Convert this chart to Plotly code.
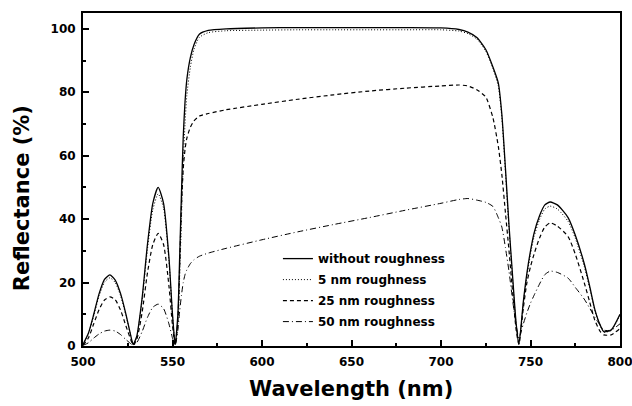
import plotly.graph_objects as go

wavelength = [500, 503, 506, 509, 512, 515, 518, 521, 524, 527, 528,
              530, 533, 536, 539, 542, 545, 548, 550, 551.5,
              553, 554, 555, 556, 557, 558, 560, 562, 565, 570, 580,
              600, 620, 640, 660, 680, 700, 710, 715, 720, 725, 729,
              732, 734, 736, 738, 740, 742, 743.5,
              746, 748, 750, 752, 755, 758, 761, 765, 771, 775, 780,
              783, 786, 789, 791, 795, 800]

r_none = [0.5, 4, 10, 16.5, 21, 22.4, 20.8, 16.5, 10, 2.5, 0.5,
          3, 15, 32, 45, 50, 45, 28, 10, 0.5,
          10, 28, 48, 66, 77, 84, 91, 95, 98.3, 99.5, 100,
          100.3, 100.4, 100.4, 100.4, 100.4, 100.3, 99.8, 99, 97.3, 93.5, 88,
          83, 73, 56, 38, 22, 7, 0.5,
          14, 23, 30, 35.6, 41, 44.5, 45.4, 44.5, 40.5, 35, 26,
          19, 11.4, 6.5, 4.5, 5, 10]

r_5nm = [0.5, 3.8, 9.5, 15.8, 20.1, 21.5, 20, 15.8, 9.6, 2.4, 0.5,
         2.8, 14.3, 30.5, 43, 48, 43.5, 27, 9.5, 0.5,
         7, 22, 40, 58, 70, 79, 88, 93.5, 97.3, 98.8, 99.4,
         99.6, 99.7, 99.7, 99.7, 99.7, 99.7, 99.3, 98.5, 96.8, 93, 87.5,
         82, 72, 55, 37, 21, 6.5, 0.5,
         13.5, 22, 29, 34.5, 39.8, 43.2, 44.1, 43.2, 39.3, 34, 25.2,
         18.4, 11, 6.3, 4.4, 4.9, 9.6]

r_25nm = [0.3, 2.5, 7, 11.5, 14.5, 15.5, 14.6, 11.3, 6.3, 1.5, 0.3,
          2, 10.5, 23, 32, 35.5, 32, 19, 6.5, 0.3,
          8, 25, 44, 56, 62, 65.5, 69, 71, 72.5, 73.3, 74.5,
          76.2, 77.8, 79.2, 80.4, 81.3, 82, 82.3, 82, 80.8, 78.5, 72,
          63, 54, 42, 30, 17, 5, 0.5,
          12, 20, 25, 29, 34, 37.5, 38.8, 37.8, 34.5, 29, 20,
          14, 8, 4.5, 3.5, 3.5, 5.5]

r_50nm = [0.2, 1, 2.5, 3.8, 4.7, 5, 4.7, 3.6, 2, 0.6, 0.3,
          1, 4.5, 9, 12.2, 13.2, 11.8, 7, 2.5, 0.3,
          5, 11, 16, 20, 22.5, 24, 26, 27.2, 28.3, 29.3, 30.8,
          33.5, 36, 38.3, 40.5, 42.8, 45, 46.2, 46.5, 46, 45.3, 44,
          40.5, 37.5, 31, 23.5, 14.5, 6.5, 2.5,
          7, 10.5, 13.5, 16, 19.5, 22.5, 23.6, 23.2, 21.4, 18.5, 14.8,
          12, 9, 6.5, 5, 5, 7]

series_names = ["without roughness", "5 nm roughness", "25 nm roughness", "50 nm roughness"]
series_values = [r_none, r_5nm, r_25nm, r_50nm]
dashes = ["solid", "1px,2px", "4px,3px", "6px,3px,1px,3px"]
widths = [1.3, 1.0, 1.2, 1.0]

fig = go.Figure()
for i, (name, vals, d, w) in enumerate(zip(series_names, series_values, dashes, widths)):
    fig.add_trace(go.Scatter(x=wavelength, y=vals, mode="lines", name=name,
                             legendgroup="g%d" % i,
                             line=dict(color="black", dash=d, width=w, shape="spline", smoothing=0.6)))

font_family = "DejaVu Sans, Arial, sans-serif"
fig.update_layout(
    width=632, height=406,
    margin=dict(l=83, r=12, t=13, b=60),
    paper_bgcolor="white", plot_bgcolor="white",
    font=dict(family=font_family, color="black"),
    legend=dict(x=0.363, y=0.306, xanchor="left", yanchor="top",
                bgcolor="rgba(0,0,0,0)", borderwidth=0,
                traceorder="grouped", tracegroupgap=2,
                font=dict(size=12, weight="bold", family=font_family)),
    xaxis=dict(range=[500, 800], showgrid=False, zeroline=False, automargin=False,
               showline=True, linewidth=2, linecolor="black", mirror=True,
               ticks="inside", ticklen=6, tickwidth=1.5, tickcolor="black",
               dtick=50, tick0=500, ticklabelstandoff=4, ticklabeloverflow="allow",
               minor=dict(ticks="inside", ticklen=3, dtick=25, tickcolor="black"),
               tickfont=dict(size=12, weight="bold")),
    yaxis=dict(range=[0, 105], showgrid=False, zeroline=False, automargin=False,
               showline=True, linewidth=2, linecolor="black", mirror=True,
               ticks="inside", ticklen=6, tickwidth=1.5, tickcolor="black",
               dtick=20, tick0=0, ticklabelstandoff=3, ticklabeloverflow="allow",
               minor=dict(ticks="inside", ticklen=3, dtick=10, tickcolor="black"),
               tickfont=dict(size=12, weight="bold")),
    annotations=[
        dict(text="Wavelength (nm)", xref="paper", yref="paper", x=0.499, y=-0.129,
             xanchor="center", yanchor="middle", showarrow=False,
             font=dict(size=21, weight="bold", family=font_family)),
        dict(text="Reflectance (%)", xref="paper", yref="paper", x=-0.1136, y=0.444,
             xanchor="center", yanchor="middle", showarrow=False, textangle=-90,
             font=dict(size=21, weight="bold", family=font_family)),
    ],
)

fig.write_html("out.html", config={"displayModeBar": False},
               post_script="document.body.style.margin='0px';document.body.style.overflow='hidden';")
